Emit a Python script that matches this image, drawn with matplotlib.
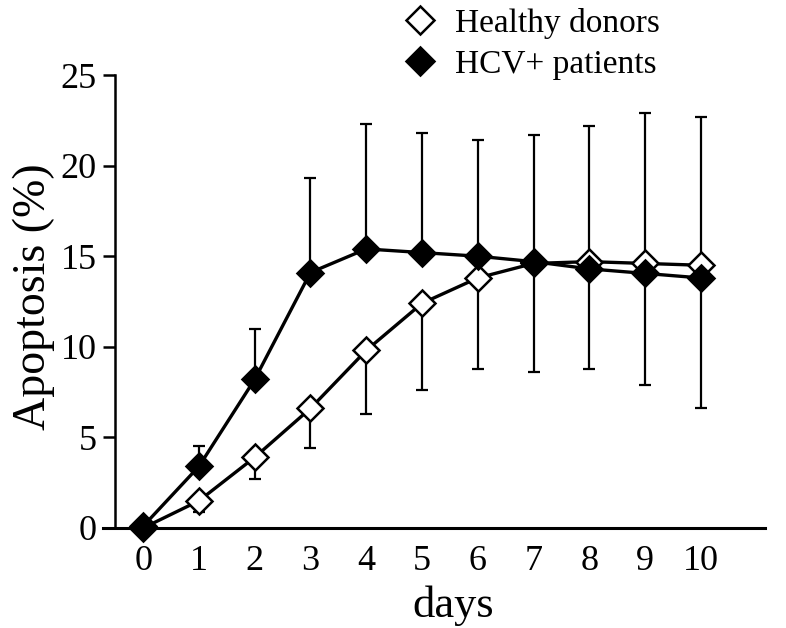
import matplotlib
matplotlib.use("Agg")
import matplotlib.pyplot as plt
from matplotlib.lines import Line2D

days = [0, 1, 2, 3, 4, 5, 6, 7, 8, 9, 10]
healthy_mean = [0.0, 1.5, 3.9, 6.6, 9.8, 12.4, 13.8, 14.6, 14.7, 14.6, 14.5]
healthy_low = [0.0, 0.9, 2.7, 4.4, 6.3, 7.6, 8.8, 8.6, 8.8, 7.9, 6.6]
hcv_mean = [0.1, 3.4, 8.2, 14.1, 15.4, 15.2, 15.0, 14.7, 14.3, 14.05, 13.8]
hcv_high = [0.1, 4.5, 11.0, 19.3, 22.3, 21.8, 21.4, 21.7, 22.2, 22.9, 22.7]
yticks = [0, 5, 10, 15, 20, 25]

plt.rcParams['font.family'] = ['Liberation Serif', 'DejaVu Serif']

fig = plt.figure(figsize=(7.86, 6.28), dpi=100)
ax = fig.add_axes([103/786, 1-528/628, (765-103)/786, (528-75)/628])

h_err = [[m - l for m, l in zip(healthy_mean, healthy_low)], [0]*len(days)]
c_err = [[0]*len(days), [h - m for m, h in zip(hcv_mean, hcv_high)]]

ax.errorbar(days, healthy_mean, yerr=h_err, fmt='none', ecolor='black',
            elinewidth=1.6, capsize=4.3, capthick=1.6, zorder=1)
ax.errorbar(days, hcv_mean, yerr=c_err, fmt='none', ecolor='black',
            elinewidth=1.6, capsize=4.3, capthick=1.6, zorder=1)
ax.plot(days, healthy_mean, color='black', lw=2.4, marker='D', ms=13.5,
        mfc='white', mec='black', mew=1.8, zorder=3, clip_on=False)
ax.plot(days, hcv_mean, color='black', lw=2.4, marker='D', ms=13.5,
        mfc='black', mec='black', mew=1.8, zorder=4, clip_on=False)

ax.set_xlim(-0.72, 11.15)
ax.set_ylim(0, 25)
ax.spines['top'].set_visible(False)
ax.spines['right'].set_visible(False)
ax.spines['left'].set_position(('data', -0.5))
ax.spines['left'].set_linewidth(1.8)
ax.spines['bottom'].set_linewidth(2.2)
ax.set_yticks(yticks)
ax.set_xticks(days)
ax.tick_params(axis='y', direction='out', length=8.5, width=1.8, labelsize=26, pad=5)
ax.tick_params(axis='x', length=0, labelsize=26, pad=12.5)
ax.set_xlabel('days', fontsize=32)
ax.xaxis.set_label_coords((453 - 103) / 662, (528 - 585) / 453)
ax.set_ylabel('Apoptosis (%)', fontsize=33)
ax.yaxis.set_label_coords((55 - 103) / 662, (528 - 296.5) / 453)

handles = [Line2D([], [], ls='none', marker='D', ms=14.5, mfc='white', mec='black', mew=1.8),
           Line2D([], [], ls='none', marker='D', ms=14.5, mfc='black', mec='black', mew=1.8)]
fig.legend(handles, ['Healthy donors', 'HCV+ patients'], loc='upper left',
           bbox_to_anchor=(400/786, 1 - 8/628), frameon=False, fontsize=24,
           handlelength=1.2, handletextpad=0.45, labelspacing=0.3, borderpad=0.0,
           borderaxespad=0)

fig.savefig('out.png', dpi=100)
